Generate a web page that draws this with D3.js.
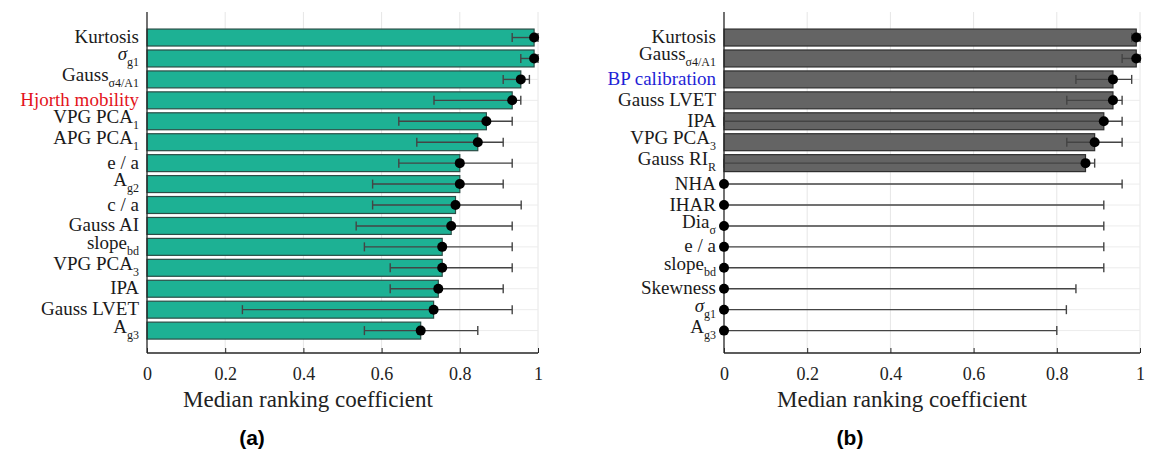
<!DOCTYPE html>
<html>
<head>
<meta charset="utf-8">
<script src="https://cdn.jsdelivr.net/npm/d3@7"></script>
<style>
  body { margin: 0; background: #fff; }
  svg text { font-family: "Liberation Serif", "DejaVu Serif", serif; }
</style>
</head>
<body>
<div id="chart"></div>
<script>
// panel (a)
var catsA = ["Kurtosis", "σ_{g1}", "Gauss_{σ4/A1}", "Hjorth mobility", "VPG PCA_{1}", "APG PCA_{1}",
  "e / a", "A_{g2}", "c / a", "Gauss AI", "slope_{bd}", "VPG PCA_{3}", "IPA", "Gauss LVET", "A_{g3}"];
var medA = [0.99, 0.99, 0.956, 0.934, 0.868, 0.846, 0.80, 0.80, 0.789, 0.778, 0.755, 0.755, 0.745, 0.733, 0.70];
var loA  = [0.934, 0.956, 0.911, 0.734, 0.644, 0.69, 0.644, 0.577, 0.577, 0.535, 0.556, 0.622, 0.622, 0.244, 0.556];
var hiA  = [1.0, 1.0, 0.978, 0.956, 0.934, 0.911, 0.934, 0.911, 0.957, 0.934, 0.934, 0.934, 0.911, 0.934, 0.846];

// panel (b)
var catsB = ["Kurtosis", "Gauss_{σ4/A1}", "BP calibration", "Gauss LVET", "IPA", "VPG PCA_{3}", "Gauss RI_{R}",
  "NHA", "IHAR", "Dia_{σ}", "e / a", "slope_{bd}", "Skewness", "σ_{g1}", "A_{g3}"];
var medB = [0.991, 0.991, 0.935, 0.935, 0.913, 0.891, 0.869, 0, 0, 0, 0, 0, 0, 0, 0];
var loB  = [0.98, 0.957, 0.846, 0.824, 0, 0.824, 0, 0, 0, 0, 0, 0, 0, 0, 0];
var hiB  = [1.0, 1.0, 0.98, 0.957, 0.957, 0.957, 0.891, 0.957, 0.913, 0.913, 0.913, 0.913, 0.846, 0.823, 0.80];

var xTicks = [0, 0.2, 0.4, 0.6, 0.8, 1];
var xTickLabels = ["0", "0.2", "0.4", "0.6", "0.8", "1"];
var highlight = {"Hjorth mobility": "#e3141b", "BP calibration": "#1f1fd6"};

var W = 1152, H = 460;
var svg = d3.select("#chart").append("svg")
    .attr("width", W).attr("height", H);

function drawPanel(opt) {
  var x = d3.scaleLinear().domain([0, 1]).range([opt.x0, opt.x1]);
  // category index -> y, MATLAB-like limits around the 15 bars
  var y = d3.scaleLinear().domain([-1.22, 15.07]).range([12, 353]);
  var bh = y(0.81) - y(0);
  var g = svg.append("g");
  var idx = d3.range(opt.cats.length);

  // grid
  g.selectAll(".vgrid").data(xTicks.slice(1)).enter().append("line")
    .attr("x1", function(d){ return x(d); }).attr("x2", function(d){ return x(d); })
    .attr("y1", y.range()[0]).attr("y2", y.range()[1])
    .attr("stroke", "#e6e6e6").attr("stroke-width", 1);
  g.selectAll(".hgrid").data(idx).enter().append("line")
    .attr("x1", x(0)).attr("x2", x(1))
    .attr("y1", function(i){ return y(i); }).attr("y2", function(i){ return y(i); })
    .attr("stroke", "#ececec").attr("stroke-width", 1);

  // bars
  g.selectAll(".bar").data(idx.filter(function(i){ return opt.med[i] > 0; })).enter().append("rect")
    .attr("x", x(0))
    .attr("y", function(i){ return y(i) - bh / 2; })
    .attr("width", function(i){ return x(opt.med[i]) - x(0); })
    .attr("height", bh)
    .attr("fill", opt.fill).attr("stroke", opt.edge).attr("stroke-width", 1.2);

  // error bars
  var eb = g.selectAll(".err").data(idx).enter().append("g").attr("stroke", "#444").attr("stroke-width", 1.4);
  eb.append("line")
    .attr("x1", function(i){ return x(opt.lo[i]); }).attr("x2", function(i){ return x(opt.hi[i]); })
    .attr("y1", function(i){ return y(i); }).attr("y2", function(i){ return y(i); });
  eb.append("line")
    .attr("x1", function(i){ return x(opt.lo[i]); }).attr("x2", function(i){ return x(opt.lo[i]); })
    .attr("y1", function(i){ return y(i) - 4.5; }).attr("y2", function(i){ return y(i) + 4.5; });
  eb.append("line")
    .attr("x1", function(i){ return x(opt.hi[i]); }).attr("x2", function(i){ return x(opt.hi[i]); })
    .attr("y1", function(i){ return y(i) - 4.5; }).attr("y2", function(i){ return y(i) + 4.5; });

  // axes
  g.append("line").attr("x1", x(0)).attr("x2", x(0)).attr("y1", y.range()[0]).attr("y2", y.range()[1])
    .attr("stroke", "#262626").attr("stroke-width", 1.3);
  var xAxis = d3.axisBottom(x).tickValues(xTicks).tickSize(-5).tickFormat(function(d, i){ return xTickLabels[i]; });
  var ax = g.append("g").attr("transform", "translate(0," + y.range()[1] + ")").call(xAxis);
  ax.select(".domain").attr("stroke", "#262626").attr("stroke-width", 1.3).attr("d", "M" + x(0) + ",0H" + x(1));
  ax.selectAll(".tick line").attr("stroke", "#262626");
  ax.selectAll(".tick text").attr("y", 14).attr("fill", "#222")
    .style("font-size", "18px").style("font-family", "Liberation Serif, serif");

  // dots
  g.selectAll(".dot").data(idx).enter().append("circle")
    .attr("cx", function(i){ return x(opt.med[i]); }).attr("cy", function(i){ return y(i); })
    .attr("r", 5).attr("fill", "#000");

  // category labels with sub-scripts
  idx.forEach(function(i){
    var lab = opt.cats[i], m = lab.match(/^(.*?)_\{(.*)\}$/);
    var t = g.append("text").attr("x", opt.x0 - 8).attr("text-anchor", "end")
      .attr("fill", highlight[lab] || "#1a1a1a").style("font-size", "19px");
    if (m) {
      t.attr("y", y(i) + 2);
      t.append("tspan").style("font-style", m[1] === "σ" ? "italic" : null).text(m[1]);
      t.append("tspan").attr("dy", 6).style("font-size", "12px").text(m[2]);
    } else {
      t.attr("y", y(i) + 5.5).text(lab);
    }
  });

  svg.append("text").attr("x", opt.titleX).attr("y", 407).attr("text-anchor", "middle")
    .attr("fill", "#222").style("font-size", "23px").text("Median ranking coefficient");
  svg.append("text").attr("x", opt.tagX).attr("y", 445).attr("text-anchor", "middle")
    .style("font-family", "Liberation Sans, Arial, sans-serif").style("font-weight", "bold")
    .style("font-size", "21px").text(opt.tag);
}

drawPanel({cats: catsA, med: medA, lo: loA, hi: hiA, x0: 147, x1: 538,
  fill: "#1db194", edge: "#2b4d46", titleX: 308, tagX: 252, tag: "(a)"});
drawPanel({cats: catsB, med: medB, lo: loB, hi: hiB, x0: 724, x1: 1140,
  fill: "#646464", edge: "#2e2e2e", titleX: 902, tagX: 850, tag: "(b)"});
</script>
</body>
</html>
